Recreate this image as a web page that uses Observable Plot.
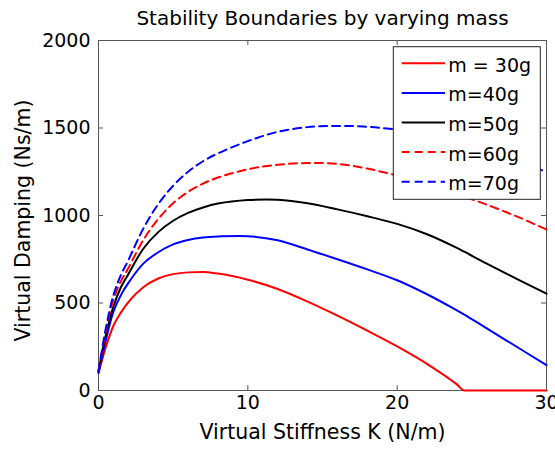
<!DOCTYPE html>
<html>
<head>
<meta charset="utf-8">
<script src="https://cdn.jsdelivr.net/npm/d3@7"></script>
<script src="https://cdn.jsdelivr.net/npm/@observablehq/plot@0.6"></script>
<style>
  body { margin: 0; background: #fff; }
  svg { font-family: "DejaVu Sans", sans-serif; }
</style>
</head>
<body>
<div id="chart"></div>
<script>
// ---- data ----
const stiffness = [0, 0.5, 1, 1.5, 2, 3, 4, 5, 6, 7, 8, 10, 12, 14, 16, 18, 20, 22, 24, 24.5, 26, 28, 30];
const m30 = [100, 250, 370, 445, 505, 590, 640, 665, 675, 677, 668, 633, 580, 508, 428, 342, 252, 152, 35, 0, 0, 0, 0];
const m40 = [100, 290, 450, 545, 615, 725, 790, 835, 860, 874, 880, 882, 858, 806, 750, 692, 630, 550, 458, 434, 355, 250, 145];
const m50 = [110, 320, 480, 590, 665, 810, 905, 970, 1015, 1046, 1068, 1088, 1090, 1070, 1035, 996, 952, 893, 815, 793, 725, 638, 553];
const m60 = [110, 340, 520, 625, 700, 860, 980, 1070, 1135, 1182, 1217, 1264, 1290, 1300, 1295, 1268, 1228, 1180, 1125, 1108, 1062, 995, 920];
const m70 = [110, 360, 545, 660, 745, 925, 1065, 1170, 1250, 1310, 1355, 1425, 1478, 1505, 1512, 1507, 1490, 1462, 1420, 1408, 1370, 1315, 1248];
const seriesNames = ["m = 30g", "m=40g", "m=50g", "m=60g", "m=70g"];
const xTicks = [0, 10, 20, 30];
const yTicks = [0, 500, 1000, 1500, 2000];
const titleText = "Stability Boundaries by varying mass";
const xLabelText = "Virtual Stiffness K (N/m)";
const yLabelText = "Virtual Damping (Ns/m)";

// ---- styles ----
const seriesValues = [m30, m40, m50, m60, m70];
const seriesColors = ["#ff0000", "#0000ff", "#000000", "#ff0000", "#0000ff"];
const seriesDash = [null, null, null, "8,5", "8,5"];
const seriesCurve = ["monotone-x", "catmull-rom", "catmull-rom", "catmull-rom", "catmull-rom"];
const W = 555, H = 450, mL = 98, mR = 9, mT = 40, mB = 60;
const fw = W - mL - mR, fh = H - mT - mB;
const axisColor = "#555";

const rows = [];
seriesValues.forEach((vals, i) => {
  stiffness.forEach((k, j) => rows.push({K: k, D: vals[j], name: seriesNames[i]}));
});

const lineMarks = seriesNames.map((name, i) =>
  Plot.line(rows.filter(r => r.name === name), {
    x: "K", y: "D",
    stroke: seriesColors[i],
    strokeWidth: 2,
    strokeDasharray: seriesDash[i],
    curve: seriesCurve[i]
  })
);

const plot = Plot.plot({
  width: W, height: H,
  marginLeft: mL, marginRight: mR, marginTop: mT, marginBottom: mB,
  style: {fontFamily: "DejaVu Sans", fontSize: "19px", color: "#000", background: "#fff"},
  x: {domain: [0, 30]},
  y: {domain: [0, 2000]},
  marks: [
    Plot.frame({stroke: axisColor, strokeWidth: 1}),
    Plot.tickX(xTicks, {x: d => d, insetTop: fh - 5, stroke: axisColor}),
    Plot.tickX(xTicks, {x: d => d, insetBottom: fh - 5, stroke: axisColor}),
    Plot.tickY(yTicks, {y: d => d, insetRight: fw - 5, stroke: axisColor}),
    Plot.tickY(yTicks, {y: d => d, insetLeft: fw - 5, stroke: axisColor}),
    ...lineMarks,
    Plot.axisX(xTicks, {anchor: "bottom", tickSize: 0, tickPadding: 5, label: null, fontSize: 19, tickFormat: d => String(d)}),
    Plot.axisY(yTicks, {anchor: "left", tickSize: 0, tickPadding: 8, label: null, fontSize: 19, tickFormat: d => String(d)}),
    Plot.text([titleText], {frameAnchor: "top", lineAnchor: "bottom", textAnchor: "middle", dy: -16, fontSize: 20, fill: "#000"}),
    Plot.text([xLabelText], {frameAnchor: "bottom", lineAnchor: "bottom", textAnchor: "middle", dy: 48, fontSize: 20.5, fill: "#000"}),
    Plot.text([yLabelText], {frameAnchor: "left", lineAnchor: "bottom", textAnchor: "middle", rotate: -90, dx: -69, dy: 5, fontSize: 20.5, fill: "#000"})
  ]
});

document.getElementById("chart").appendChild(plot);

// ---- legend (inside the frame, top right) ----
const svg = d3.select(plot);
const xs = plot.scale("x"), ys = plot.scale("y");
const frameRight = Math.max(...xs.range);
const frameTop = Math.min(...ys.range);
const boxW = 147, boxH = 152.6;
const bx = frameRight - 5.7 - boxW, by = frameTop + 6.7;
const lg = svg.append("g").attr("class", "legend");
lg.append("rect")
  .attr("x", bx).attr("y", by).attr("width", boxW).attr("height", boxH)
  .attr("fill", "#fff").attr("stroke", "#222").attr("stroke-width", 1);
seriesNames.forEach((name, i) => {
  const cy = by + 16.6 + i * 29.6;
  lg.append("line")
    .attr("x1", bx + 8.4).attr("x2", bx + 51.7)
    .attr("y1", cy).attr("y2", cy)
    .attr("stroke", seriesColors[i]).attr("stroke-width", 2)
    .attr("stroke-dasharray", seriesDash[i]);
  lg.append("text")
    .attr("x", bx + 55).attr("y", cy + 8.4)
    .attr("text-anchor", "start")
    .attr("font-family", "DejaVu Sans").attr("font-size", 19).attr("fill", "#000")
    .text(name);
});
</script>
</body>
</html>
